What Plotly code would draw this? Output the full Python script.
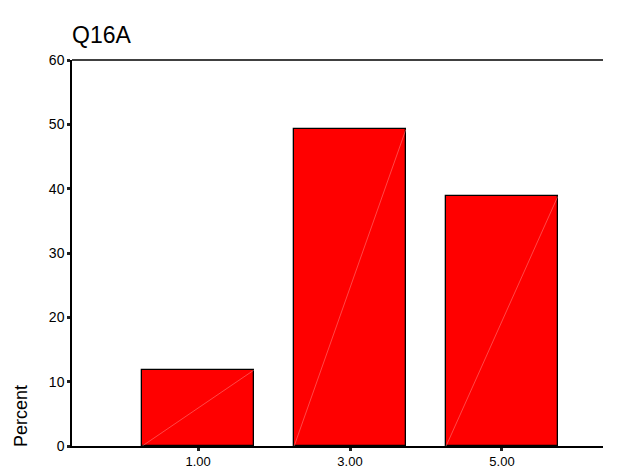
import plotly.graph_objects as go

categories = [1, 3, 5]
tick_labels = ["1.00", "3.00", "5.00"]
percent = [11.8, 49.2, 38.8]
y_ticks = [0, 10, 20, 30, 40, 50, 60]

bar_width = 1.47

fig = go.Figure()
fig.add_trace(go.Bar(
    x=categories, y=percent, width=bar_width,
    marker=dict(color="#ff0000", line=dict(color="#000000", width=1.3)),
    showlegend=False, hoverinfo="skip"))

# faint diagonal artifact inside each bar (from data)
for c, v in zip(categories, percent):
    fig.add_trace(go.Scatter(
        x=[c - bar_width / 2, c + bar_width / 2], y=[0, v], mode="lines",
        line=dict(color="rgba(255,150,150,0.8)", width=0.6),
        showlegend=False, hoverinfo="skip"))

# page body has an 8px default margin, so the figure is sized/offset to compensate
W, H = 609, 463
fig.update_layout(
    width=W, height=H,
    margin=dict(l=64, r=14, t=52, b=25, autoexpand=False),
    paper_bgcolor="white", plot_bgcolor="white",
    font=dict(family="Liberation Sans, Arial, sans-serif", color="black", size=13),
    title=dict(text="Q16A", x=64 / W, xanchor="left", y=1 - 27 / H, yanchor="middle",
               font=dict(size=23, color="black")),
    bargap=0,
    xaxis=dict(range=[-0.66, 6.33], tickvals=categories, ticktext=tick_labels,
               showgrid=False, zeroline=False, showline=True, linecolor="black", linewidth=1.5,
               ticks="outside", ticklen=3, tickwidth=3, tickcolor="#222",
               tickfont=dict(size=13), mirror=False, automargin=False),
    yaxis=dict(range=[0, 60], tickvals=y_ticks, showgrid=False, zeroline=False,
               showline=True, linecolor="black", linewidth=1.5,
               ticks="outside", ticklen=3, tickwidth=3, tickcolor="#222",
               tickfont=dict(size=14), automargin=False),
    shapes=[dict(type="line", xref="paper", yref="paper", x0=0, x1=1, y0=1, y1=1,
                 line=dict(color="black", width=1.5))],
    annotations=[dict(text="Percent", xref="paper", yref="paper", x=0, y=0,
                      xshift=-51, yshift=-3, xanchor="center", yanchor="bottom", textangle=-90,
                      showarrow=False, font=dict(size=18, color="black"))],
)

fig.write_html("out.html")
